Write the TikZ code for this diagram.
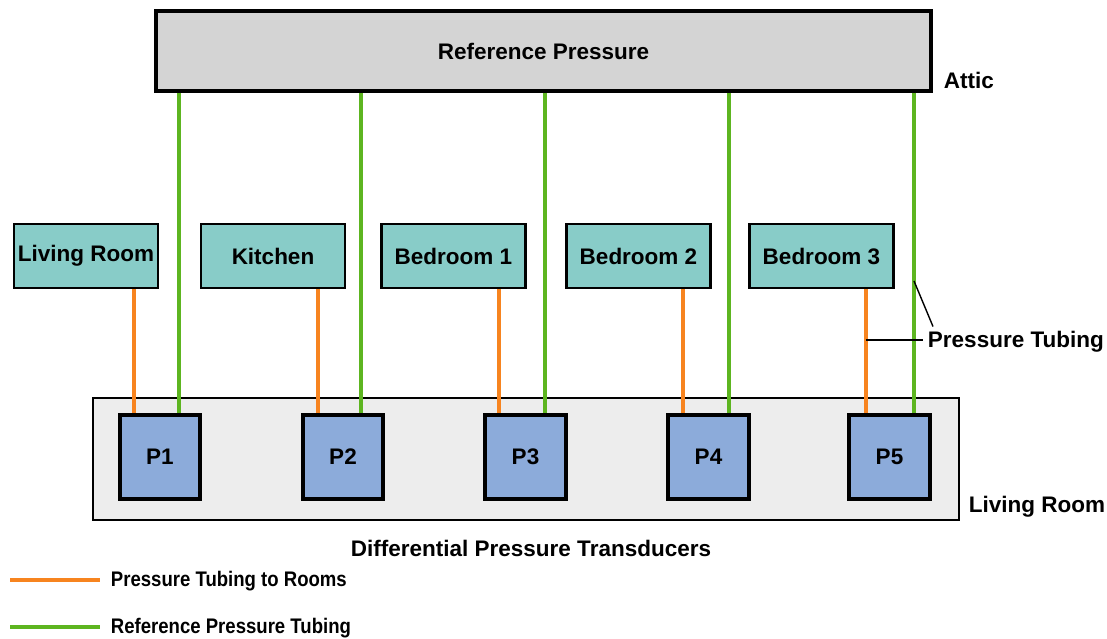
\documentclass[tikz,border=0pt]{standalone}
\usepackage{fontspec}
\setmainfont{Liberation Sans}
\usetikzlibrary{positioning}
\definecolor{refgray}{HTML}{D4D4D4}
\definecolor{housegray}{HTML}{EDEDED}
\definecolor{roomteal}{HTML}{88CCC8}
\definecolor{sensorblue}{HTML}{8CABDA}
\definecolor{tubeorange}{HTML}{F7841F}
\definecolor{tubegreen}{HTML}{5DB520}
\tikzstyle{every node}=[font=\fontsize{16}{19}\selectfont\bfseries]
\tikzstyle{refbox}=[draw=black,line width=2.8pt,fill=refgray,minimum width=19.35cm,minimum height=2cm]
\tikzstyle{room}=[draw=black,line width=2pt,fill=roomteal,minimum width=3.6cm,minimum height=1.6cm,inner sep=1pt]
\tikzstyle{house}=[draw=black,line width=1.5pt,fill=housegray,minimum width=21.65cm,minimum height=3.05cm]
\tikzstyle{sensor}=[draw=black,line width=2.8pt,fill=sensorblue,minimum width=2.02cm,minimum height=2.12cm]
\tikzstyle{tubeo}=[draw=tubeorange,line width=2.4pt]
\tikzstyle{tubeg}=[draw=tubegreen,line width=2.4pt]
\tikzstyle{leader}=[draw=black,line width=1pt]
\tikzstyle{legtext}=[anchor=west,font=\fontsize{15}{18}\selectfont\bfseries]

\begin{document}
\begin{tikzpicture}[x=0.025cm,y=-0.025cm]
    \useasboundingbox (0,0) rectangle (1107,639);
    % attic
    \node[refbox] (ref) at (543.5,51) {Reference Pressure};
    \node[anchor=west] (attic) at (939,80) {Attic};
    % rooms
    \node[room] (lr) at (86,256) {Living Room};
    \node[room] (kit) at (273,256) {Kitchen};
    \node[room] (bed1) at (453.5,256) {Bedroom 1};
    \node[room] (bed2) at (638.5,256) {Bedroom 2};
    \node[room] (bed3) at (821.5,256) {Bedroom 3};
    % transducers
    \node[house] (house) at (526,459) {};
    \node[anchor=west] (houselbl) at (964,507) {Living Room};
    \node (dpt) at (531,548) {Differential Pressure Transducers};
    \node[sensor] (p1) at (160,457) {P1};
    \node[sensor] (p2) at (343,457) {P2};
    \node[sensor] (p3) at (525.5,457) {P3};
    \node[sensor] (p4) at (708.5,457) {P4};
    \node[sensor] (p5) at (889.5,457) {P5};
    % tubing
    \foreach \r/\p/\xo/\xg in {lr/p1/134/179,kit/p2/318/361,bed1/p3/499/545,bed2/p4/683/729,bed3/p5/866/914}{
        \coordinate (to) at (\xo,0);
        \coordinate (tg) at (\xg,0);
        \draw[tubeo] (to |- \r.south) -- (to |- \p.north);
        \draw[tubeg] (tg |- ref.south) -- (tg |- \p.north);
    }
    % label for tubing
    \node[anchor=west] (tubelbl) at (923,342) {Pressure Tubing};
    \coordinate (tapo) at (866,340);
    \coordinate (tapg) at (914,281);
    \draw[leader] (tapo) -- (tubelbl.west |- tapo);
    \draw[leader] (tapg) -- ([xshift=0.25cm]tubelbl.north west);
    % legend
    \coordinate (lego) at (10,580);
    \coordinate (legg) at (10,627);
    \node[legtext] (legotxt) at (106,581) {\scalebox{0.88}[1]{Pressure Tubing to Rooms}};
    \node[legtext] (leggtxt) at (106,628) {\scalebox{0.88}[1]{Reference Pressure Tubing}};
    \draw[tubeo,line width=3.2pt] (lego) -- +(90,0);
    \draw[tubeg,line width=3.2pt] (legg) -- +(90,0);
\end{tikzpicture}
\end{document}
